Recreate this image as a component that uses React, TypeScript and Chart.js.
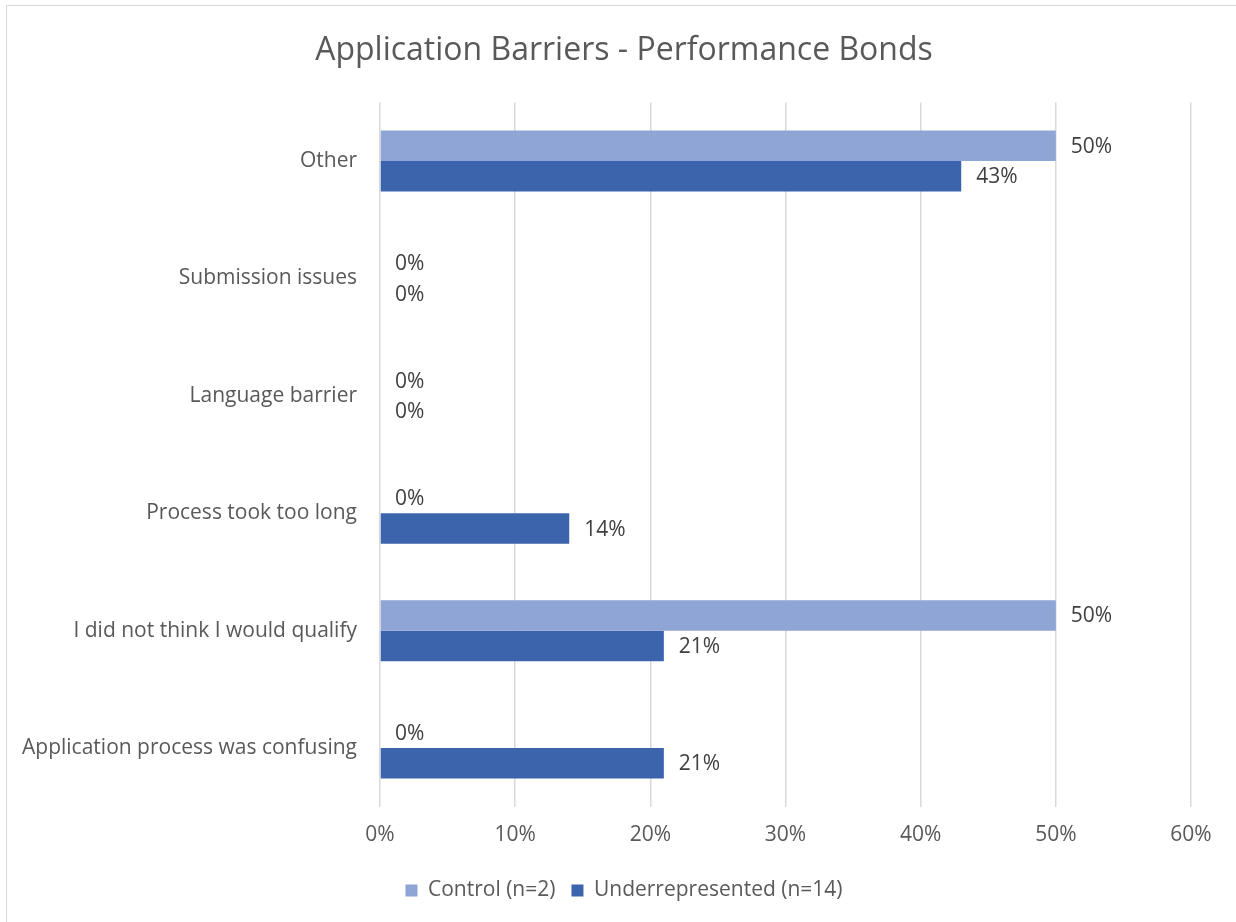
import React, { useEffect, useRef } from "react";
import { Chart, registerables } from "chart.js";

Chart.register(...registerables);

const categories = [
  "Other",
  "Submission issues",
  "Language barrier",
  "Process took too long",
  "I did not think I would qualify",
  "Application process was confusing",
];
const controlValues = [50, 0, 0, 0, 50, 0];
const underrepresentedValues = [43, 0, 0, 14, 21, 21];
const xTicks = [0, 10, 20, 30, 40, 50, 60];

const FONT = "'Open Sans', 'DejaVu Sans', sans-serif";

const valueLabels = {
  id: "valueLabels",
  afterDatasetsDraw(chart: any) {
    const ctx = chart.ctx;
    ctx.save();
    ctx.font = `21px ${FONT}`;
    ctx.fillStyle = "#404040";
    ctx.textBaseline = "middle";
    ctx.textAlign = "left";
    chart.data.datasets.forEach((ds: any, di: number) => {
      const meta = chart.getDatasetMeta(di);
      meta.data.forEach((el: any, i: number) => {
        ctx.fillText(`${ds.data[i]}%`, el.x + 15, el.y + 1);
      });
    });
    ctx.restore();
  },
};

export default function App() {
  const ref = useRef<HTMLCanvasElement>(null);
  useEffect(() => {
    document.body.style.margin = "0";
    const chart = new Chart(ref.current!, {
      type: "bar",
      data: {
        labels: categories,
        datasets: [
          {
            label: "Control (n=2)",
            data: controlValues,
            backgroundColor: "#8FA5D5",
            categoryPercentage: 0.52,
            barPercentage: 1,
          },
          {
            label: "Underrepresented (n=14)",
            data: underrepresentedValues,
            backgroundColor: "#3B64AD",
            categoryPercentage: 0.52,
            barPercentage: 1,
          },
        ],
      },
      options: {
        indexAxis: "y",
        animation: false,
        responsive: false,
        maintainAspectRatio: false,
        layout: { padding: { left: 57, right: 45, top: 0, bottom: 11 } },
        plugins: {
          title: {
            display: true,
            text: "Application Barriers - Performance Bonds",
            color: "#595959",
            font: { family: FONT, size: 32, weight: "normal" },
            padding: { top: 32, bottom: 32 },
          },
          legend: {
            position: "bottom",
            labels: {
              color: "#595959",
              font: { family: FONT, size: 21 },
              boxWidth: 12,
              boxHeight: 12,
              padding: 16,
            },
          },
          tooltip: { enabled: false },
        },
        scales: {
          x: {
            min: 0,
            max: 60,
            afterBuildTicks(scale: any) {
              scale.ticks = xTicks.map((v) => ({ value: v }));
            },
            ticks: {
              color: "#595959",
              font: { family: FONT, size: 21 },
              padding: 16,
              callback: (v: any) => `${v}%`,
            },
            grid: { color: "#D9D9D9", lineWidth: 1.5, drawTicks: false },
            border: { display: false },
          },
          y: {
            afterFit(scale: any) {
              scale.width = 323;
              scale._computeLabelArea = () => undefined;
            },
            ticks: {
              color: "#595959",
              font: { family: FONT, size: 21 },
              padding: 23,
            },
            grid: { display: false, drawTicks: false },
            border: { display: false },
          },
        },
      },
      plugins: [valueLabels],
    } as any);
    return () => chart.destroy();
  }, []);
  return (
    <div style={{ position: "relative", width: 1236, height: 922, overflow: "hidden", background: "#fff" }}>
      <div
        style={{
          position: "absolute",
          left: 6,
          top: 5,
          width: 1300,
          height: 1000,
          borderLeft: "1.5px solid #D9D9D9",
          borderTop: "1.5px solid #D9D9D9",
        }}
      />
      <canvas ref={ref} width={1236} height={922} style={{ position: "absolute", left: 0, top: 0 }} />
    </div>
  );
}
